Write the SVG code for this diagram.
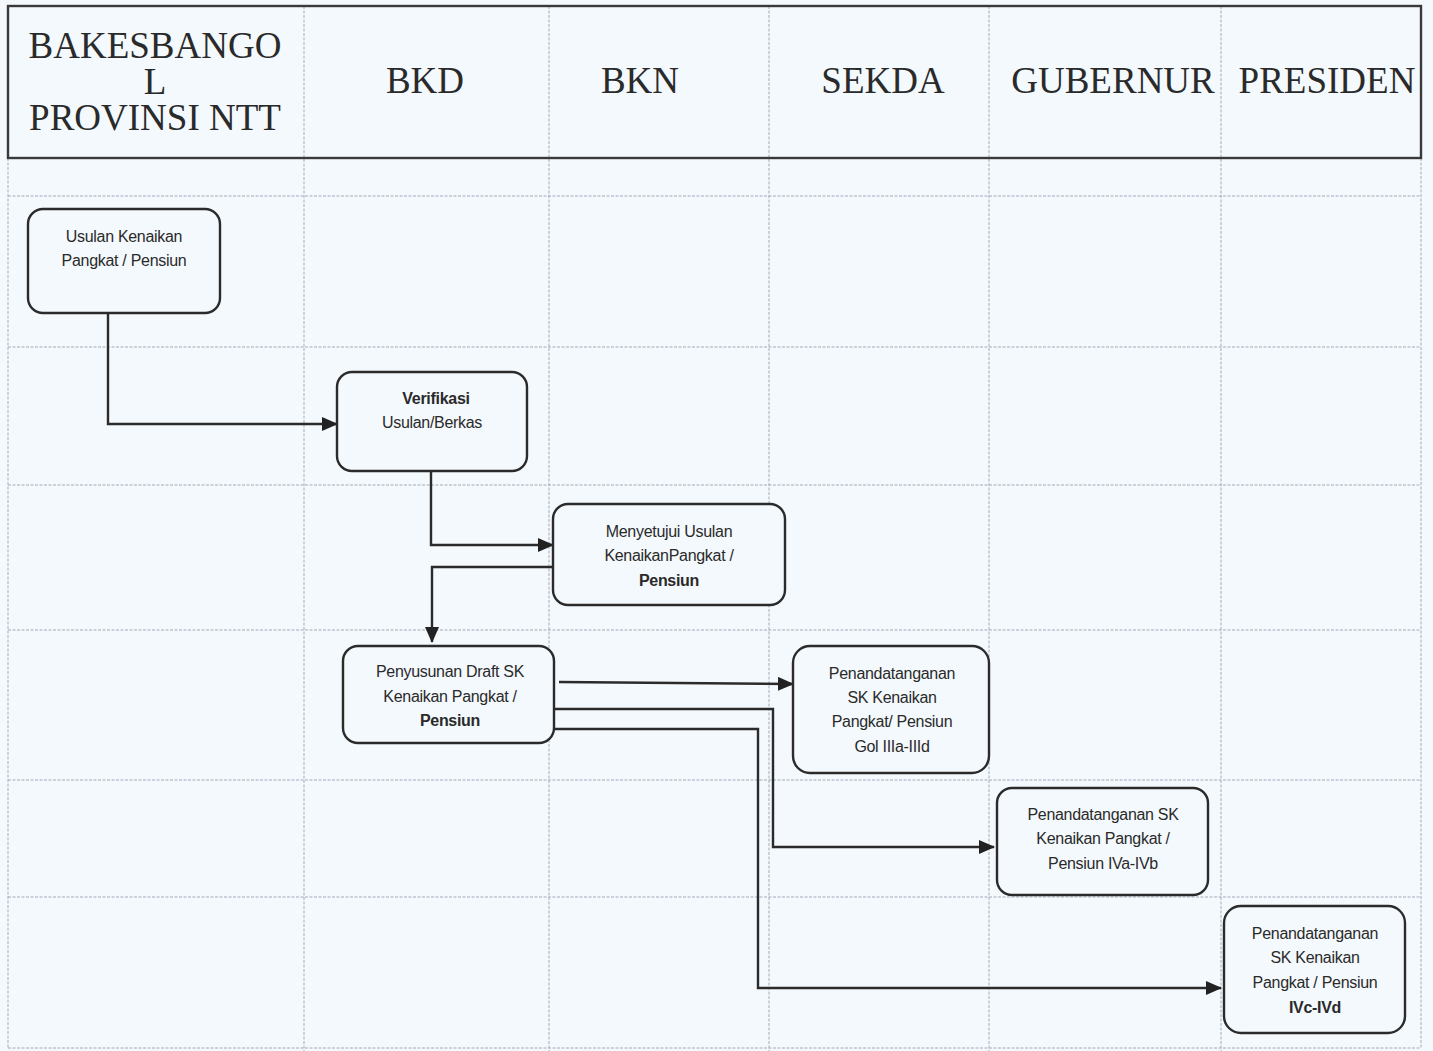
<svg xmlns="http://www.w3.org/2000/svg" width="1433" height="1051" viewBox="0 0 1433 1051">
<style>
.grid{stroke:#a4abbb;stroke-width:1;stroke-dasharray:3 1.5;fill:none}
.hdr{font-family:"Liberation Serif","Times New Roman",serif;font-size:37px;fill:#2a2a2a;text-anchor:middle}
.box{fill:#f4f9fd;stroke:#2b2b2b;stroke-width:2.4}
.lbl{font-family:"Liberation Sans Narrow","Liberation Sans",Arial,sans-serif;font-size:16px;fill:#2a2a2a;text-anchor:middle;letter-spacing:-0.3px}
.b{font-weight:bold}
.con{fill:none;stroke:#2b2b2b;stroke-width:2.4}
</style>
<defs>
<marker id="ah" viewBox="0 0 16 14" refX="15" refY="7" markerWidth="16" markerHeight="14" markerUnits="userSpaceOnUse" orient="auto">
<path d="M0,0 L16,7 L0,14 Z" fill="#222"/>
</marker>
</defs>
<rect width="1433" height="1051" fill="#f4f9fd"/>
<g id="grid">
<line class="grid" x1="304" y1="6" x2="304" y2="1051"/>
<line class="grid" x1="549" y1="6" x2="549" y2="1051"/>
<line class="grid" x1="769" y1="6" x2="769" y2="1051"/>
<line class="grid" x1="989" y1="6" x2="989" y2="1051"/>
<line class="grid" x1="1221" y1="6" x2="1221" y2="1051"/>
<line class="grid" x1="8" y1="158" x2="8" y2="1048"/>
<line class="grid" x1="1421" y1="158" x2="1421" y2="1048"/>
<line class="grid" x1="8" y1="196" x2="1421" y2="196"/>
<line class="grid" x1="8" y1="347" x2="1421" y2="347"/>
<line class="grid" x1="8" y1="485" x2="1421" y2="485"/>
<line class="grid" x1="8" y1="630" x2="1421" y2="630"/>
<line class="grid" x1="8" y1="780" x2="1421" y2="780"/>
<line class="grid" x1="8" y1="897" x2="1421" y2="897"/>
<line class="grid" x1="8" y1="1048" x2="1421" y2="1048"/>
</g>
<g id="header">
<rect x="8" y="6" width="1413" height="152" fill="none" stroke="#3a3a3a" stroke-width="2.4"/>
<text class="hdr" x="155" y="58">BAKESBANGO</text>
<text class="hdr" x="155" y="94">L</text>
<text class="hdr" x="155" y="130">PROVINSI NTT</text>
<text class="hdr" x="425" y="93">BKD</text>
<text class="hdr" x="640" y="93">BKN</text>
<text class="hdr" x="883" y="93">SEKDA</text>
<text class="hdr" x="1113" y="93">GUBERNUR</text>
<text class="hdr" x="1327" y="93">PRESIDEN</text>
</g>
<g id="connectors">
<path class="con" d="M108,313 V424 H337" marker-end="url(#ah)"/>
<path class="con" d="M431,471 V545 H553" marker-end="url(#ah)"/>
<path class="con" d="M557,567 H432 V642" marker-end="url(#ah)"/>
<path class="con" d="M559,682 L793,684" marker-end="url(#ah)"/>
<path class="con" d="M554,709 H773 V847 H994" marker-end="url(#ah)"/>
<path class="con" d="M554,729 H758 V988 H1221" marker-end="url(#ah)"/>
</g>
<g id="n1">
<rect class="box" x="28" y="209" width="192" height="104" rx="15"/>
<text class="lbl" x="124" y="242">Usulan Kenaikan</text>
<text class="lbl" x="124" y="266">Pangkat / Pensiun</text>
</g>
<g id="n2">
<rect class="box" x="337" y="372" width="190" height="99" rx="15"/>
<text class="lbl b" x="436" y="404">Verifikasi</text>
<text class="lbl" x="432" y="428">Usulan/Berkas</text>
</g>
<g id="n3">
<rect class="box" x="553" y="504" width="232" height="101" rx="15"/>
<text class="lbl" x="669" y="537">Menyetujui Usulan</text>
<text class="lbl" x="669" y="561">KenaikanPangkat /</text>
<text class="lbl b" x="669" y="586">Pensiun</text>
</g>
<g id="n4">
<rect class="box" x="343" y="646" width="211" height="97" rx="15"/>
<text class="lbl" x="450" y="677">Penyusunan Draft SK</text>
<text class="lbl" x="450" y="702">Kenaikan Pangkat /</text>
<text class="lbl b" x="450" y="726">Pensiun</text>
</g>
<g id="n5">
<rect class="box" x="793" y="646" width="196" height="127" rx="17"/>
<text class="lbl" x="892" y="679">Penandatanganan</text>
<text class="lbl" x="892" y="703">SK Kenaikan</text>
<text class="lbl" x="892" y="727">Pangkat/ Pensiun</text>
<text class="lbl" x="892" y="752">Gol IIIa-IIId</text>
</g>
<g id="n6">
<rect class="box" x="997" y="788" width="211" height="107" rx="15"/>
<text class="lbl" x="1103" y="820">Penandatanganan SK</text>
<text class="lbl" x="1103" y="844">Kenaikan Pangkat /</text>
<text class="lbl" x="1103" y="869">Pensiun IVa-IVb</text>
</g>
<g id="n7">
<rect class="box" x="1224" y="906" width="181" height="127" rx="17"/>
<text class="lbl" x="1315" y="939">Penandatanganan</text>
<text class="lbl" x="1315" y="963">SK Kenaikan</text>
<text class="lbl" x="1315" y="988">Pangkat / Pensiun</text>
<text class="lbl b" x="1315" y="1013">IVc-IVd</text>
</g>
</svg>
